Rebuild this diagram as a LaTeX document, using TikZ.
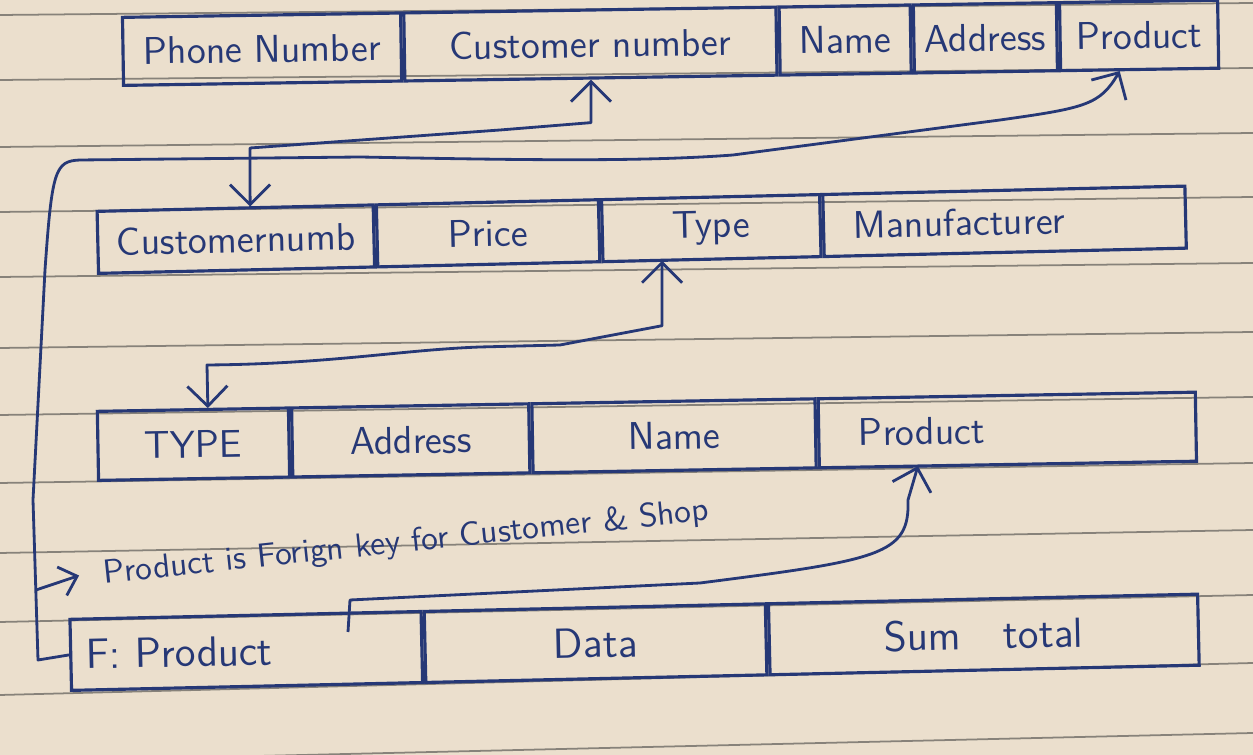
\documentclass[tikz,border=0pt]{standalone}
\usepackage{tikz}
\usetikzlibrary{positioning,arrows.meta}
\definecolor{paper}{RGB}{235,223,205}
\definecolor{ink}{RGB}{38,56,118}
\definecolor{rulegray}{RGB}{135,130,122}

\begin{document}
\begin{tikzpicture}[x=0.01cm,y=-0.01cm,
    cell/.style={draw=ink,line width=0.9pt,minimum height=0.68cm,inner sep=1pt,text=ink,font=\sffamily\fontsize{11}{13}\selectfont},
    fk/.style={draw=ink,line width=0.8pt,line join=round},
    rule/.style={draw=rulegray,line width=0.5pt},
    >={Straight Barb[length=2mm,width=4mm]}]
  \fill[paper] (0,0) rectangle (1253,755);
  \useasboundingbox (0,0) rectangle (1253,755);
  \foreach \l/\r in {15/3,80/68,147/133,212/197,277/263,348/332,415/397,483/463,553/530,622/595,695/663,762/733}
    \draw[rule] (0,\l) -- (1253,\r);

  \node[cell,minimum width=2.78cm,anchor=south west,rotate=0.9] (phone) at (122,87) {Phone Number};
  \node[cell,minimum width=3.72cm,right=0pt of phone,rotate=0.9] (cnum) {Customer number};
  \node[cell,minimum width=1.31cm,right=0pt of cnum,rotate=0.9] (name1) {Name};
  \node[cell,minimum width=1.43cm,right=0pt of name1,rotate=0.9] (addr1) {Address};
  \node[cell,minimum width=1.58cm,right=0pt of addr1,rotate=0.9] (prod1) {Product};

  \node[cell,minimum height=0.62cm,minimum width=2.76cm,anchor=south west,rotate=1.33] (cust2) at (97,275) {Customernumb};
  \node[cell,minimum height=0.62cm,minimum width=2.22cm,right=0pt of cust2,rotate=1.33] (price) {Price};
  \node[cell,minimum height=0.62cm,minimum width=2.18cm,right=0pt of price,rotate=1.33] (type2) {Type};
  \node[cell,minimum height=0.62cm,inner xsep=0.3cm,text width=3.02cm,align=left,right=0pt of type2,rotate=1.33] (manu) {Manufacturer};

  \node[cell,minimum height=0.69cm,minimum width=1.91cm,anchor=south west,rotate=1] (type3) at (97,482) {TYPE};
  \node[cell,minimum height=0.69cm,minimum width=2.37cm,right=0pt of type3,rotate=1] (addr3) {Address};
  \node[cell,minimum height=0.69cm,minimum width=2.83cm,right=0pt of addr3,rotate=1] (name3) {Name};
  \node[cell,minimum height=0.69cm,inner xsep=0.4cm,text width=2.97cm,align=left,right=0pt of name3,rotate=1] (prod3) {Product};

  \node[cell,minimum height=0.71cm,inner xsep=0.15cm,text width=3.21cm,align=left,anchor=south west,rotate=1.28,font=\sffamily\fontsize{12}{14}\selectfont] (fprod) at (70,692) {F: Product};
  \node[cell,minimum height=0.71cm,minimum width=3.41cm,right=0pt of fprod,rotate=1.28,font=\sffamily\fontsize{12}{14}\selectfont] (data) {Data};
  \node[cell,minimum height=0.71cm,minimum width=4.29cm,right=0pt of data,rotate=1.28,font=\sffamily\fontsize{12}{14}\selectfont] (sum) {Sum\quad total};

  \node[text=ink,font=\sffamily\fontsize{9.5}{11}\selectfont,anchor=base west,rotate=6,inner sep=1pt] (note) at (100,584) {Product is Forign key for Customer \& Shop};

  \coordinate (branch) at (36,590);
  \coordinate (fkend) at (348,632);

  \draw[fk,<->] (cnum.south) -- ++(0,43) -- (500,130) -- (250,148) -- ([xshift=0.15cm]cust2.north);
  \draw[fk,->] (fprod.west) -- (38,660) -- (33,500) -- (45,270) .. controls (52,170) and (55,161) .. (80,160) -- (360,157) .. controls (520,160) and (640,162) .. (733,155) -- (1000,120) .. controls (1085,108) and (1100,105) .. ([xshift=-0.2cm]prod1.south);
  \draw[fk,->,>={Straight Barb[length=1.6mm,width=3mm]}] (branch) -- ([xshift=-0.2cm]note.west);
  \draw[fk,<->] ([xshift=-0.5cm]type2.south) -- ++(0,65) -- (560,345) -- (480,347) .. controls (400,350) and (330,364) .. (207,365) -- ([xshift=0.15cm]type3.north);
  \draw[fk,->] (fkend) -- (350,600) -- (700,583) .. controls (880,560) and (910,555) .. (908,500) -- ([xshift=-0.9cm]prod3.south);
\end{tikzpicture}
\end{document}
